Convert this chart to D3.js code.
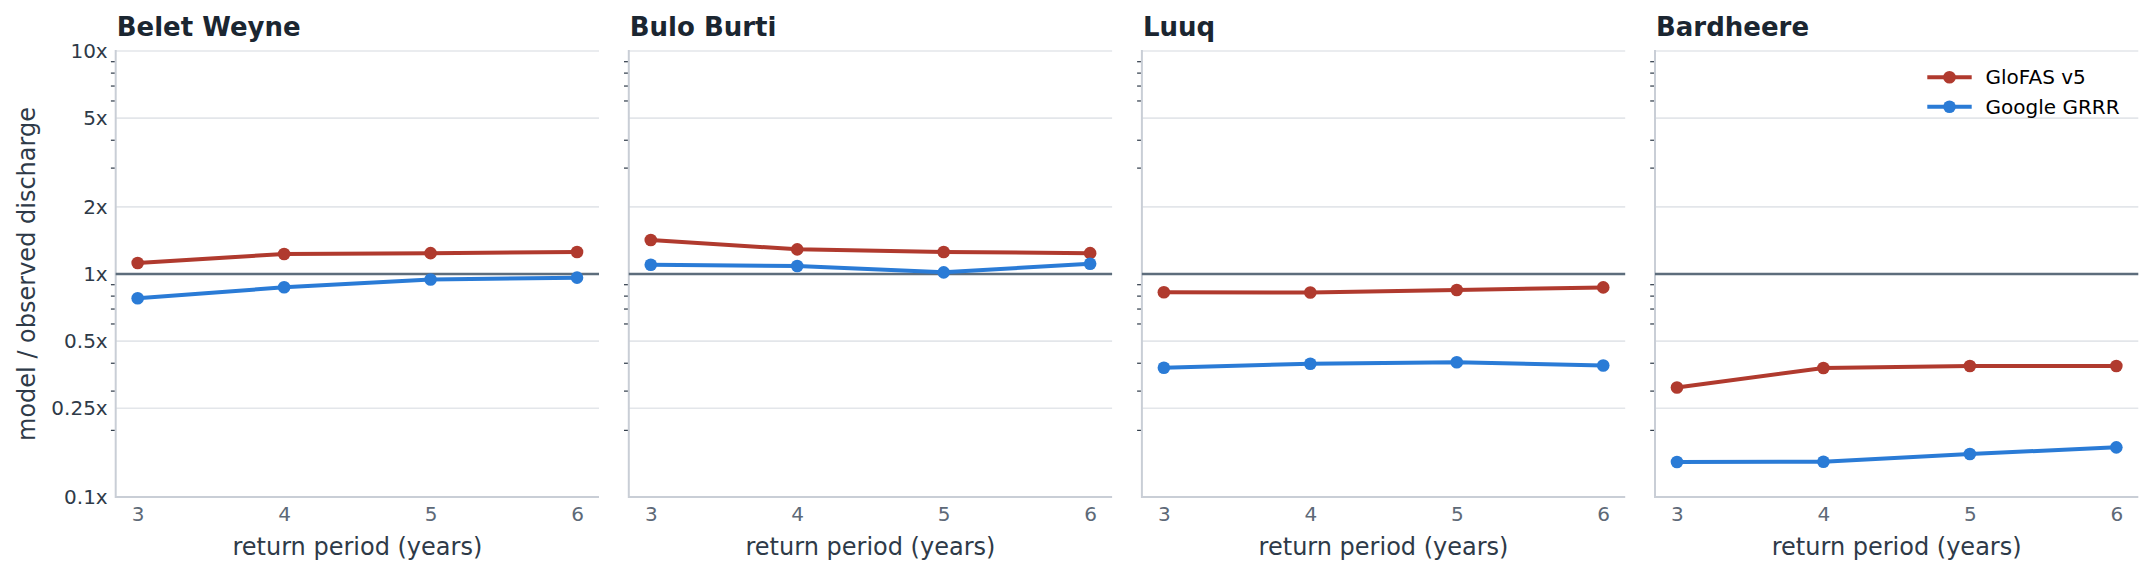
<!DOCTYPE html>
<html>
<head>
<meta charset="utf-8">
<script src="https://cdn.jsdelivr.net/npm/d3@7"></script>
<style>
  html, body { margin: 0; padding: 0; background: #ffffff; }
  svg { display: block; font-family: "DejaVu Sans", sans-serif; }
</style>
</head>
<body>
<svg id="chart" width="2155" height="577"></svg>
<script>
// ---- data ----
const stations = ["Belet Weyne", "Bulo Burti", "Luuq", "Bardheere"];
const returnPeriods = [3, 4, 5, 6];
const seriesNames = ["GloFAS v5", "Google GRRR"];
const glofasV5 = [
  [1.12, 1.23, 1.24, 1.255],
  [1.42, 1.29, 1.255, 1.24],
  [0.828, 0.826, 0.848, 0.871],
  [0.310, 0.379, 0.387, 0.387]
];
const googleGRRR = [
  [0.778, 0.872, 0.945, 0.963],
  [1.10, 1.086, 1.017, 1.112],
  [0.380, 0.396, 0.402, 0.389],
  [0.1435, 0.144, 0.156, 0.167]
];
const yTickValues = [0.1, 0.25, 0.5, 1, 2, 5, 10];
const yTickLabels = ["0.1x", "0.25x", "0.5x", "1x", "2x", "5x", "10x"];
const gridValues = [0.25, 0.5, 2, 5, 10];
const minorTickValues = [0.2, 0.3, 0.4, 0.6, 0.7, 0.8, 0.9, 3, 4, 6, 7, 8, 9];
const xTickLabels = ["3", "4", "5", "6"];

// ---- styling ----
const colors = ["#b03a2e", "#2a7bd6"];
const panelLeft0 = 115.7, panelStep = 513.1, panelW = 483.3;
const plotTop = 51, plotBottom = 497;

const svg = d3.select("#chart");

const y = d3.scaleLog().domain([0.1, 10]).range([plotBottom, plotTop]);

stations.forEach((name, i) => {
  const left = panelLeft0 + i * panelStep;
  const x = d3.scaleLinear().domain([2.85, 6.15]).range([left, left + panelW]);
  const g = svg.append("g");

  // gridlines
  g.selectAll(".grid").data(gridValues).enter().append("line")
    .attr("x1", left).attr("x2", left + panelW)
    .attr("y1", d => y(d)).attr("y2", d => y(d))
    .attr("stroke", "#e3e6ea").attr("stroke-width", 1.6);

  // y axis with minor ticks only
  const yAxisMinor = d3.axisLeft(y).tickValues(minorTickValues).tickSize(4).tickFormat("");
  const ga = g.append("g").attr("transform", `translate(${left - 0.8},0)`).call(yAxisMinor);
  ga.select(".domain").remove();
  ga.selectAll(".tick line").attr("stroke", "#2e3a48").attr("stroke-width", 1.2);

  // y tick labels (first panel)
  if (i === 0) {
    const yAxisMajor = d3.axisLeft(y).tickValues(yTickValues).tickSize(0).tickPadding(8)
      .tickFormat((d, k) => yTickLabels[k]);
    const gm = g.append("g").attr("transform", `translate(${left},0)`).call(yAxisMajor);
    gm.select(".domain").remove();
    gm.selectAll(".tick text").attr("fill", "#2e3a48").attr("font-size", 20)
      .attr("font-family", "DejaVu Sans");
  }

  // x axis
  const xAxis = d3.axisBottom(x).tickValues(returnPeriods).tickSize(0).tickPadding(10)
    .tickFormat((d, k) => xTickLabels[k]);
  const gx = g.append("g").attr("transform", `translate(0,${plotBottom})`).call(xAxis);
  gx.select(".domain").remove();
  gx.selectAll(".tick text").attr("fill", "#5d6977").attr("font-size", 20)
    .attr("font-family", "DejaVu Sans");

  // spines
  g.append("line").attr("x1", left).attr("x2", left)
    .attr("y1", plotTop - 1).attr("y2", plotBottom + 1)
    .attr("stroke", "#c9ced6").attr("stroke-width", 2);
  g.append("line").attr("x1", left).attr("x2", left + panelW)
    .attr("y1", plotBottom).attr("y2", plotBottom)
    .attr("stroke", "#c9ced6").attr("stroke-width", 2);

  // reference line at 1x
  g.append("line").attr("x1", left).attr("x2", left + panelW)
    .attr("y1", y(1)).attr("y2", y(1))
    .attr("stroke", "#5d6d7c").attr("stroke-width", 2.7);

  // series
  [glofasV5[i], googleGRRR[i]].forEach((vals, s) => {
    const pts = returnPeriods.map((rp, k) => [rp, vals[k]]);
    g.append("path").datum(pts)
      .attr("d", d3.line().x(d => x(d[0])).y(d => y(d[1])))
      .attr("fill", "none").attr("stroke", colors[s]).attr("stroke-width", 4)
      .attr("stroke-linejoin", "round");
    g.selectAll(".pt" + s).data(pts).enter().append("circle")
      .attr("cx", d => x(d[0])).attr("cy", d => y(d[1])).attr("r", 6.3)
      .attr("fill", colors[s]);
  });

  // title
  g.append("text").attr("x", left + 1).attr("y", 36)
    .attr("font-size", 26).attr("font-weight", "bold").attr("fill", "#1b2631")
    .text(name);

  // x label
  g.append("text").attr("x", left + panelW / 2).attr("y", 555)
    .attr("text-anchor", "middle").attr("font-size", 24).attr("fill", "#2e3a48")
    .text("return period (years)");

  // legend in last panel
  if (i === stations.length - 1) {
    const lg = g.append("g");
    seriesNames.forEach((sn, s) => {
      const ly = 77.3 + s * 29.4;
      lg.append("line").attr("x1", 1927.3).attr("x2", 1971.7).attr("y1", ly).attr("y2", ly)
        .attr("stroke", colors[s]).attr("stroke-width", 4);
      lg.append("circle").attr("cx", 1949.5).attr("cy", ly).attr("r", 6.3).attr("fill", colors[s]);
      lg.append("text").attr("x", 1985.5).attr("y", ly).attr("dy", "0.35em")
        .attr("font-size", 20).attr("fill", "#000000").text(sn);
    });
  }
});

// y axis label
svg.append("text")
  .attr("transform", `translate(35,${(plotTop + plotBottom) / 2}) rotate(-90)`)
  .attr("text-anchor", "middle").attr("font-size", 24).attr("fill", "#2e3a48")
  .text("model / observed discharge");
</script>
</body>
</html>
